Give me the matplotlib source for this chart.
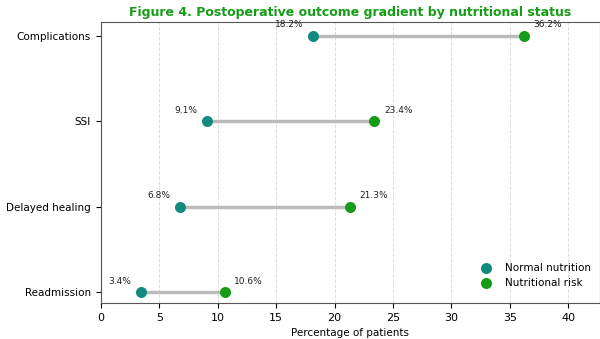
import matplotlib
matplotlib.use("Agg")
import matplotlib.pyplot as plt

categories = ["Readmission", "Delayed healing", "SSI", "Complications"]
normal = [3.4, 6.8, 9.1, 18.2]
risk = [10.6, 21.3, 23.4, 36.2]
xticks = [0, 5, 10, 15, 20, 25, 30, 35, 40]

c_normal = "#138a80"
c_risk = "#169c16"

fig = plt.figure(figsize=(6, 3.39), dpi=100)
ax = fig.add_axes([0.168, 0.106, 0.832, 0.829])

ypos = list(range(len(categories)))
for y, a, b in zip(ypos, normal, risk):
    ax.plot([a, b], [y, y], color="#bbbbbb", lw=2.5, zorder=1, solid_capstyle="butt")
ax.scatter(normal, ypos, s=48, color=c_normal, zorder=3, label="Normal nutrition")
ax.scatter(risk, ypos, s=48, color=c_risk, zorder=3, label="Nutritional risk")

for y, a, b in zip(ypos, normal, risk):
    ax.annotate(f"{a}%", (a, y), xytext=(-7, 4.5), textcoords="offset points",
                ha="right", va="bottom", fontsize=6.5, color="#222222")
    ax.annotate(f"{b}%", (b, y), xytext=(7, 4.5), textcoords="offset points",
                ha="left", va="bottom", fontsize=6.5, color="#222222")

ax.set_yticks(ypos)
ax.set_yticklabels(categories, fontsize=7.5)
ax.set_xticks(xticks)
ax.tick_params(axis="x", labelsize=8)
ax.set_xlim(0, max(risk) * 1.18)
ax.set_ylim(-0.13, 3.16)
ax.set_xlabel("Percentage of patients", fontsize=7.5)
ax.grid(axis="x", linestyle="--", color="#dddddd", lw=0.7)
ax.set_axisbelow(True)
for s in ax.spines.values():
    s.set_color("#555555")
ax.set_title("Figure 4. Postoperative outcome gradient by nutritional status",
             fontsize=9, fontweight="bold", color=c_risk, pad=4)
ax.legend(loc="lower right", bbox_to_anchor=(1.0, 0.02), frameon=False,
          fontsize=7.5, handletextpad=0.8)

fig.savefig("out.png", dpi=100)
